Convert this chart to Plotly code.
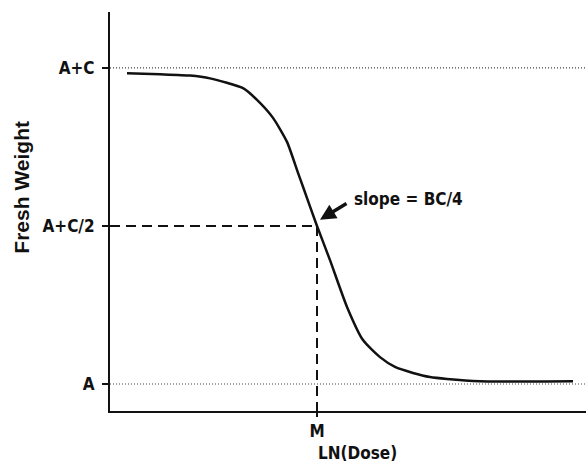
import plotly.graph_objects as go

# Response curve read as (LN dose, relative fresh weight); M = 0, A = 0, A+C = 1
ln_dose = [-3.80, -3.14, -2.54, -2.14, -1.48, -1.20, -0.88, -0.60, -0.38, -0.28,
           0.00, 0.26, 0.60, 0.92, 1.26, 1.56, 1.92, 2.26, 2.60, 3.26, 5.12]
fresh_weight = [0.983, 0.980, 0.976, 0.967, 0.936, 0.899, 0.842, 0.766, 0.668, 0.624,
                0.500, 0.392, 0.244, 0.139, 0.085, 0.054, 0.035, 0.022, 0.016, 0.009, 0.009]

# Reference levels and tick labels
level_values = [0.0, 0.5, 1.0]
level_labels = ["A", "A+C/2", "A+C"]
m_value = 0.0
m_label = "M"

x_range = [-4.14, 5.38]
y_range = [-0.0854, 1.177]

NARROW = "DejaVu Sans Condensed, Liberation Sans, Arial, sans-serif"
FONT = "Liberation Sans, Arial, Helvetica, sans-serif"
INK = "#111111"

fig = go.Figure()

# dotted asymptote lines at A and A+C
for lvl in (level_values[0], level_values[2]):
    fig.add_trace(go.Scatter(
        x=x_range, y=[lvl, lvl], mode="lines",
        line=dict(color="#444444", width=1.2, dash="1px,2px"),
        hoverinfo="skip", showlegend=False))

# dashed guides to the midpoint (M, A+C/2)
fig.add_trace(go.Scatter(
    x=[x_range[0], m_value], y=[level_values[1], level_values[1]], mode="lines",
    line=dict(color=INK, width=2, dash="10px,6px"),
    hoverinfo="skip", showlegend=False))
fig.add_trace(go.Scatter(
    x=[m_value, m_value], y=[level_values[1], y_range[0] - 0.01], mode="lines",
    line=dict(color=INK, width=2, dash="10px,6px"),
    hoverinfo="skip", showlegend=False, cliponaxis=False))

# dose-response curve
fig.add_trace(go.Scatter(
    x=ln_dose, y=fresh_weight, mode="lines",
    line=dict(color=INK, width=2.5, shape="spline", smoothing=0.6),
    showlegend=False))

# arrow pointing at the inflection point
fig.add_annotation(
    x=m_value + 0.06, y=level_values[1] + 0.02, xref="x", yref="y",
    ax=28, ay=-17, text="", showarrow=True,
    arrowhead=2, arrowsize=0.9, arrowwidth=3.5, arrowcolor=INK, standoff=0)
fig.add_annotation(
    x=0.70, y=0.585, xref="x", yref="y", xanchor="left", yanchor="middle",
    text="<b>slope = BC/4</b>", showarrow=False,
    font=dict(family=NARROW, size=17, color=INK))

# axis titles
fig.add_annotation(
    x=0.80, y=-0.105, xref="x", yref="paper", xanchor="center", yanchor="middle",
    text="<b>LN(Dose)</b>", showarrow=False,
    font=dict(family=NARROW, size=17, color=INK))
fig.add_annotation(
    x=-0.186, y=0.561, xref="paper", yref="paper", xanchor="center", yanchor="middle",
    text="<b>Fresh Weight</b>", textangle=-90, showarrow=False,
    font=dict(family=FONT, size=21, color=INK))

fig.update_layout(
    width=586, height=469,
    margin=dict(l=110, r=0, t=12, b=58),
    paper_bgcolor="white", plot_bgcolor="white",
    font=dict(family=NARROW, size=17, color=INK),
    xaxis=dict(
        range=x_range, showgrid=False, zeroline=False,
        showline=True, linewidth=2, linecolor=INK,
        tickmode="array", tickvals=[m_value], ticktext=["<b>" + m_label + "</b>"],
        ticks="outside", ticklen=4, tickwidth=2, tickcolor=INK,
        tickfont=dict(family=NARROW, size=17, color=INK)),
    yaxis=dict(
        range=y_range, showgrid=False, zeroline=False,
        showline=True, linewidth=2, linecolor=INK,
        tickmode="array", tickvals=level_values,
        ticktext=["<b>" + t + "</b>" for t in level_labels],
        ticks="outside", ticklen=6, tickwidth=2, tickcolor=INK,
        ticklabelstandoff=4,
        tickfont=dict(family=NARROW, size=17, color=INK)),
)

fig.write_html("out.html")
